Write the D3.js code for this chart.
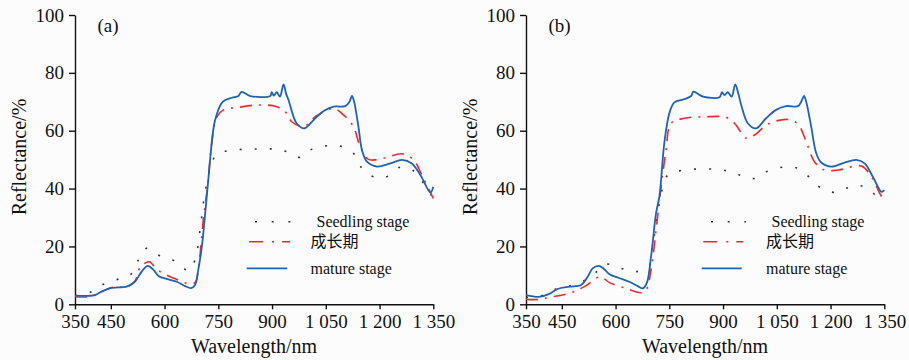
<!DOCTYPE html>
<html>
<head>
<meta charset="utf-8">
<script src="https://cdn.jsdelivr.net/npm/d3@7"></script>
<style>
  body { margin: 0; background: #fcfcfc; }
  svg { display: block; }
  .tick text { font-family: "Liberation Serif", "Times New Roman", serif; font-size: 19px; fill: #111; }
  .axis path, .axis line { stroke: #111; stroke-width: 1.4; }
  .lbl { font-family: "Liberation Serif", "Times New Roman", serif; fill: #111; }
</style>
</head>
<body>
<div id="chart"></div>
<script>
// x ticks and labels
var xTicks = [350, 450, 600, 750, 900, 1050, 1200, 1350];
var xTickLabels = ["350", "450", "600", "750", "900", "1 050", "1 200", "1 350"];
var yTicks = [0, 20, 40, 60, 80, 100];
var seriesNames = ["Seedling stage", "成长期", "mature stage"];

// panel (a)
var aSeedlingWl = [350, 392, 429, 471, 504, 527, 550, 590, 634, 666, 685, 699, 711, 729, 746, 792, 876, 913, 949, 978, 1006, 1048, 1090, 1127, 1146, 1179, 1216, 1258, 1295, 1323, 1350];
var aSeedling   = [3.0, 4.1, 6.9, 8.7, 10.1, 15.3, 19.4, 16.5, 14.7, 11.6, 15.3, 25.7, 37.2, 47.6, 51.9, 53.3, 53.7, 53.6, 52.4, 50.8, 53.3, 54.7, 54.7, 52.2, 47.8, 44.3, 43.9, 47.4, 46.1, 41.8, 36.6];
var aGrowthWl = [350, 387, 406, 452, 494, 517, 532, 557, 578, 606, 634, 662, 685, 694, 708, 722, 731, 746, 764, 802, 862, 913, 941, 955, 988, 1020, 1072, 1100, 1127, 1146, 1169, 1211, 1263, 1295, 1318, 1350];
var aGrowth   = [2.6, 2.6, 3.2, 5.8, 6.1, 8.0, 12.8, 14.7, 12.1, 10.1, 8.6, 7.3, 7.5, 11.9, 29.1, 43, 55, 64.8, 67.2, 68.0, 68.9, 68.3, 66.0, 63.1, 61.4, 64.8, 67.7, 65.4, 61.4, 54.5, 50.1, 50.5, 52.0, 49.9, 44.7, 36.6];
var aMatureWl = [350, 406, 424, 452, 494, 517, 536, 553, 569, 583, 611, 634, 657, 674, 685, 694, 704, 713, 722, 727, 741, 762, 788, 806, 815, 839, 895, 899, 905, 913, 922, 932, 939, 946, 960, 969, 990, 1016, 1044, 1072, 1104, 1116, 1123, 1129, 1141, 1151, 1165, 1193, 1230, 1263, 1290, 1314, 1342, 1350];
var aMature   = [3.0, 3.2, 4.4, 5.7, 6.1, 7.8, 11.3, 13.3, 11.9, 9.8, 8.6, 7.8, 6.3, 5.6, 6.7, 11.9, 19.9, 31, 43, 50, 63.7, 70.0, 71.4, 72.0, 73.4, 72.0, 72.0, 73.3, 72.1, 73.3, 71.8, 76.0, 72.9, 70.6, 64.8, 62.5, 60.8, 63.7, 66.8, 68.3, 68.5, 70.0, 72.0, 70.0, 61.4, 53.3, 49.3, 47.6, 48.7, 49.9, 48.7, 44.7, 38.6, 40.6];

// panel (b)
var bSeedlingWl = [350, 392, 434, 478, 513, 545, 572, 615, 657, 693, 701, 709, 722, 732, 746, 792, 876, 923, 955, 988, 1020, 1067, 1109, 1141, 1174, 1216, 1263, 1300, 1337, 1350];
var bSeedling   = [2.4, 2.9, 5.3, 6.6, 8.2, 11.0, 13.9, 12.4, 11.3, 13.2, 18.8, 24.5, 34.9, 40.6, 44.7, 46.4, 46.7, 45.8, 44.3, 43.5, 45.8, 47.4, 47.0, 43.9, 40.1, 38.7, 41.0, 40.4, 36.3, 35.5];
var bGrowthWl = [350, 387, 415, 471, 513, 557, 583, 629, 671, 685, 699, 713, 727, 741, 755, 792, 848, 909, 932, 946, 965, 988, 1025, 1081, 1109, 1132, 1155, 1183, 1221, 1286, 1314, 1337, 1350];
var bGrowth   = [1.7, 1.7, 2.4, 3.8, 6.1, 9.5, 7.5, 5.5, 4.0, 4.9, 11.9, 25.7, 40.6, 53.3, 62.6, 64.3, 64.8, 64.6, 62.6, 60.2, 57.4, 58.5, 62.3, 63.9, 62.3, 56.2, 49.3, 46.4, 46.4, 47.8, 44.1, 38.4, 35.5];
var bMatureWl = [350, 387, 415, 438, 471, 504, 522, 536, 553, 566, 583, 611, 638, 662, 676, 687, 699, 713, 722, 727, 736, 750, 764, 792, 811, 817, 844, 890, 897, 904, 913, 924, 934, 943, 952, 969, 992, 1020, 1048, 1076, 1109, 1118, 1126, 1132, 1146, 1160, 1174, 1202, 1239, 1272, 1295, 1318, 1342, 1350];
var bMature   = [3.2, 2.6, 3.6, 5.3, 6.1, 6.7, 9.5, 12.4, 13.3, 12.4, 10.4, 9.0, 7.8, 6.3, 5.5, 7.3, 16.5, 31.5, 37, 43, 55.7, 66, 69.8, 70.9, 72, 73.5, 71.8, 71.6, 73.3, 72.3, 73.3, 71.8, 76.0, 72.6, 68.3, 62.6, 60.8, 64.3, 67.2, 68.5, 68.5, 70, 72, 70, 61.4, 52.2, 49, 47.6, 49.0, 49.9, 48.7, 44.1, 38.9, 39.5];

var W = 909, H = 360;
var svg = d3.select("#chart").append("svg").attr("width", W).attr("height", H);

var styles = [
  {color: "#333", width: 1.6, dash: "2,13", legDash: "2,14.7"},
  {color: "#ee2a2f", width: 1.6, dash: "12,7,2,7", legDash: "14,9,2,8"},
  {color: "#1f63b4", width: 1.8, dash: null, legDash: null}
];

function drawPanel(opt) {
  var x = d3.scaleLinear().domain([350, 1350]).range([opt.left, opt.left + 358.3]);
  var y = d3.scaleLinear().domain([0, 100]).range([304.3, 15]);
  var g = svg.append("g");

  var xAxis = d3.axisBottom(x).tickValues(xTicks).tickSizeInner(5).tickSizeOuter(0)
    .tickFormat(function(d, i) { return xTickLabels[i]; });
  var gx = g.append("g").attr("class", "axis").attr("transform", "translate(0," + y(0) + ")").call(xAxis);
  gx.selectAll(".tick text").attr("y", 10.5);

  var yAxis = d3.axisLeft(y).tickValues(yTicks).tickSizeInner(6).tickSizeOuter(0).tickPadding(5);
  g.append("g").attr("class", "axis").attr("transform", "translate(" + opt.left + ",0)").call(yAxis);

  var line = d3.line().x(function(d) { return x(d[0]); }).y(function(d) { return y(d[1]); })
    .curve(d3.curveCatmullRom.alpha(0.5));

  opt.series.forEach(function(s, i) {
    var pts = s[0].map(function(w, k) { return [w, s[1][k]]; });
    g.append("path").datum(pts).attr("d", line)
      .attr("fill", "none").attr("stroke", styles[i].color)
      .attr("stroke-width", styles[i].width)
      .attr("stroke-dasharray", styles[i].dash);
  });

  // legend
  opt.legend.forEach(function(l, i) {
    g.append("line").attr("x1", l.x1).attr("x2", l.x2).attr("y1", l.y).attr("y2", l.y)
      .attr("stroke", styles[i].color).attr("stroke-width", styles[i].width)
      .attr("stroke-dasharray", styles[i].legDash);
    g.append("text").attr("class", "lbl").attr("x", l.tx).attr("y", l.y + 5.5)
      .style("font-size", "16px")
      .style("font-family", i === 1 ? "'Noto Sans CJK SC', sans-serif" : null)
      .text(seriesNames[i]);
  });

  g.append("text").attr("class", "lbl").attr("x", opt.left + 22.5).attr("y", 32)
    .style("font-size", "19px").text(opt.tag);
  g.append("text").attr("class", "lbl").attr("text-anchor", "middle")
    .attr("x", opt.left + 179).attr("y", 353).style("font-size", "20px").text("Wavelength/nm");
  g.append("text").attr("class", "lbl").attr("text-anchor", "middle")
    .attr("transform", "translate(" + (opt.left - 49) + ",157) rotate(-90)")
    .style("font-size", "20px").text("Reflectance/%");
}

drawPanel({
  left: 75, tag: "(a)",
  series: [[aSeedlingWl, aSeedling], [aGrowthWl, aGrowth], [aMatureWl, aMature]],
  legend: [{x1: 255, x2: 292, y: 221.7, tx: 316.5}, {x1: 249, x2: 290, y: 241.7, tx: 310.5}, {x1: 246.7, x2: 287.3, y: 268.3, tx: 310.5}]
});
drawPanel({
  left: 526, tag: "(b)",
  series: [[bSeedlingWl, bSeedling], [bGrowthWl, bGrowth], [bMatureWl, bMature]],
  legend: [{x1: 711, x2: 746, y: 221.7, tx: 771.5}, {x1: 703.3, x2: 743.3, y: 241.7, tx: 766}, {x1: 701.7, x2: 741.7, y: 268.3, tx: 766}]
});
</script>
</body>
</html>
